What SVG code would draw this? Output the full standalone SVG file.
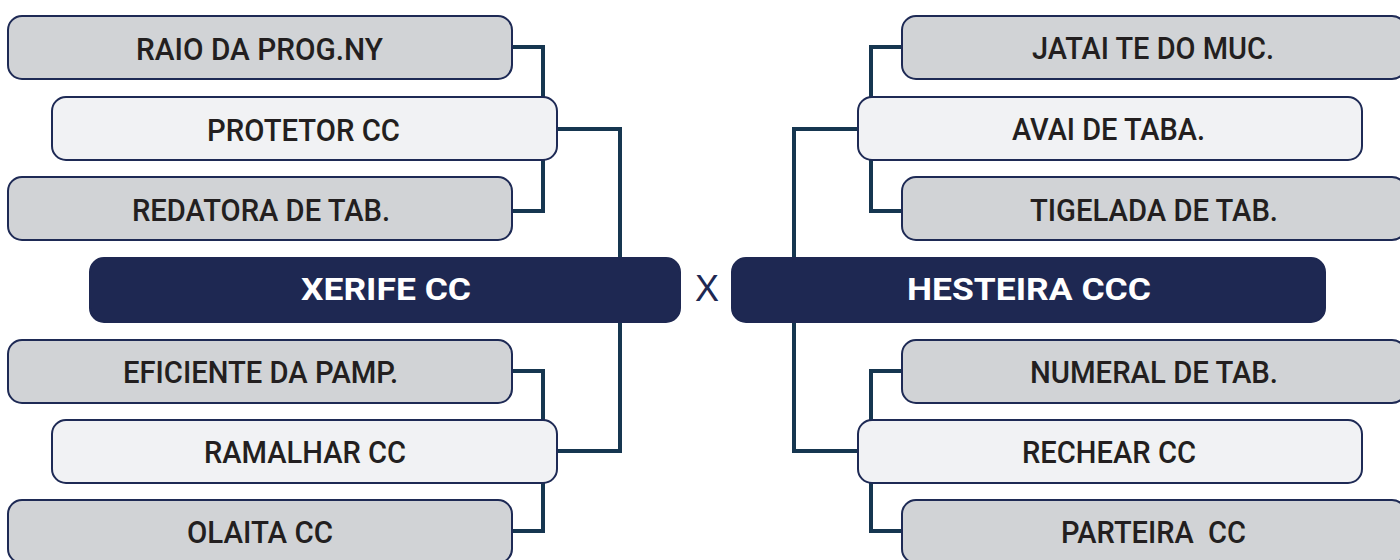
<svg xmlns="http://www.w3.org/2000/svg" width="1400" height="560" viewBox="0 0 1400 560">
<style>
.g{fill:#d1d3d6;stroke:#1e2a55;stroke-width:2}
.l{fill:#f1f2f4;stroke:#1e2a55;stroke-width:2}
.d{fill:#1e2852;stroke:#1e2852;stroke-width:2}
.t{font-family:Roboto,"Liberation Sans",Arial,sans-serif;font-weight:500;font-size:31px;fill:#231f20;text-anchor:middle}
.w{font-family:Roboto,"Liberation Sans",Arial,sans-serif;font-weight:bold;font-size:32px;fill:#ffffff;text-anchor:middle}
.c{fill:none;stroke:#163650;stroke-width:4;stroke-linejoin:miter}
</style>
<rect width="1400" height="560" fill="#ffffff"/>
<g id="connectors">
<path class="c" d="M512 47 H543 V211 H512"/>
<path class="c" d="M557 129 H620 V258"/>
<path class="c" d="M620 322 V451 H557"/>
<path class="c" d="M512 371 H543 V531 H512"/>
<path class="c" d="M902 47 H871 V211 H902"/>
<path class="c" d="M858 129 H794 V258"/>
<path class="c" d="M794 322 V451 H858"/>
<path class="c" d="M902 371 H871 V531 H902"/>
</g>
<g id="n-raio"><rect class="g" x="8" y="16" width="504" height="63" rx="14"/><text class="t" x="259.5" y="60" textLength="247" lengthAdjust="spacingAndGlyphs">RAIO DA PROG.NY</text></g>
<g id="n-protetor"><rect class="l" x="52" y="97" width="505" height="63" rx="14"/><text class="t" x="303.5" y="141" textLength="193" lengthAdjust="spacingAndGlyphs">PROTETOR CC</text></g>
<g id="n-redatora"><rect class="g" x="8" y="177" width="504" height="63" rx="14"/><text class="t" x="261" y="221" textLength="258" lengthAdjust="spacingAndGlyphs">REDATORA DE TAB.</text></g>
<g id="n-xerife"><rect class="d" x="90" y="258" width="590" height="64" rx="14"/><text class="w" x="386" y="300" textLength="170" lengthAdjust="spacingAndGlyphs">XERIFE CC</text></g>
<g id="n-eficiente"><rect class="g" x="8" y="340" width="504" height="63" rx="14"/><text class="t" x="260.5" y="383" textLength="275" lengthAdjust="spacingAndGlyphs">EFICIENTE DA PAMP.</text></g>
<g id="n-ramalhar"><rect class="l" x="52" y="420" width="505" height="63" rx="14"/><text class="t" x="305" y="463" textLength="202" lengthAdjust="spacingAndGlyphs">RAMALHAR CC</text></g>
<g id="n-olaita"><rect class="g" x="8" y="500" width="504" height="63" rx="14"/><text class="t" x="260" y="543" textLength="146" lengthAdjust="spacingAndGlyphs">OLAITA CC</text></g>
<g id="n-x"><text x="707" y="301" font-family="Liberation Sans,Arial,sans-serif" font-size="36" fill="#1e2852" text-anchor="middle">X</text></g>
<g id="n-jatai"><rect class="g" x="902" y="16" width="504" height="63" rx="14"/><text class="t" x="1153" y="59" textLength="242" lengthAdjust="spacingAndGlyphs">JATAI TE DO MUC.</text></g>
<g id="n-avai"><rect class="l" x="858" y="97" width="504" height="63" rx="14"/><text class="t" x="1108.5" y="140" textLength="193" lengthAdjust="spacingAndGlyphs">AVAI DE TABA.</text></g>
<g id="n-tigelada"><rect class="g" x="902" y="177" width="504" height="63" rx="14"/><text class="t" x="1154" y="221" textLength="248" lengthAdjust="spacingAndGlyphs">TIGELADA DE TAB.</text></g>
<g id="n-hesteira"><rect class="d" x="732" y="258" width="593" height="64" rx="14"/><text class="w" x="1029" y="300" textLength="244" lengthAdjust="spacingAndGlyphs">HESTEIRA CCC</text></g>
<g id="n-numeral"><rect class="g" x="902" y="340" width="504" height="63" rx="14"/><text class="t" x="1154" y="383" textLength="248" lengthAdjust="spacingAndGlyphs">NUMERAL DE TAB.</text></g>
<g id="n-rechear"><rect class="l" x="858" y="420" width="504" height="63" rx="14"/><text class="t" x="1109" y="463" textLength="174" lengthAdjust="spacingAndGlyphs">RECHEAR CC</text></g>
<g id="n-parteira"><rect class="g" x="902" y="500" width="504" height="63" rx="14"/><text class="t" x="1153.5" y="543" textLength="185" lengthAdjust="spacingAndGlyphs" xml:space="preserve">PARTEIRA  CC</text></g>
</svg>
